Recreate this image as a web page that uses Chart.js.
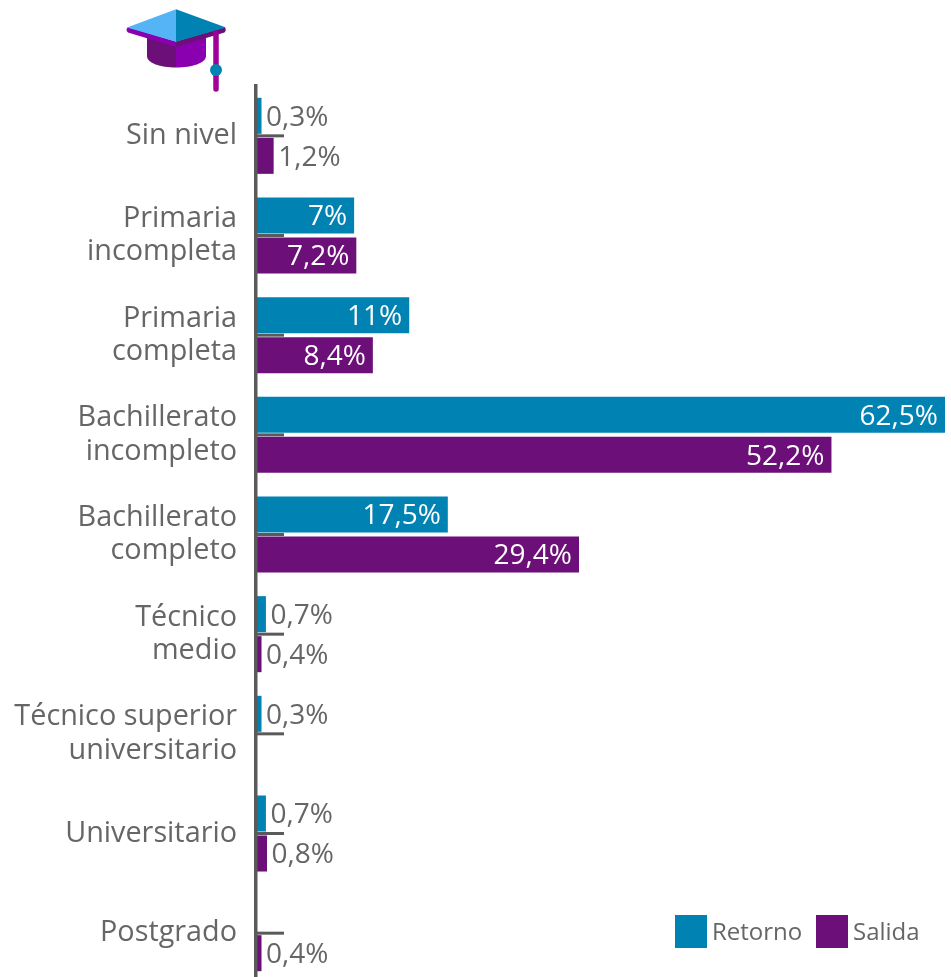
<!DOCTYPE html>
<html><head><meta charset="utf-8">
<style>html,body{margin:0;padding:0;background:#fff;width:951px;height:977px;overflow:hidden}
#w{position:relative;width:951px;height:977px;overflow:hidden}
canvas{display:block}
#cap{position:absolute;left:0;top:0}</style>
<script src="https://cdn.jsdelivr.net/npm/chart.js@4"></script>
</head><body><div id="w"><canvas id="c" width="951" height="983"></canvas>
<svg id="cap" width="240" height="95" viewBox="0 0 240 95">
<path d="M147 36V56C147 63 160 67.500 176 67.500V44Z" fill="#6c0f78"/>
<path d="M206 36V56C206 63 192 67.500 176 67.500V44Z" fill="#8a00b0"/>
<path d="M128 27L176 41.500V47L128 32.500Q125 30 128 27Z" fill="#8a00b0"/>
<path d="M224.500 27L176 41.500V47L224.500 32.500Q227 30 224.500 27Z" fill="#6c0f78"/>
<path d="M176 9.300L127 27.500L176 41.700Z" fill="#55b4f5"/>
<path d="M176 9.300L226 27.500L176 41.700Z" fill="#0083b3"/>
<path d="M216 33V89" stroke="#a0009a" stroke-width="5.500" stroke-linecap="round"/>
<circle cx="216" cy="70" r="6" fill="#0083b3"/>
</svg></div>
<script>
const categories = [["Sin nivel"],["Primaria","incompleta"],["Primaria","completa"],["Bachillerato","incompleto"],["Bachillerato","completo"],["Técnico","medio"],["Técnico superior","universitario"],["Universitario"],["Postgrado"]];
const retornoBars = [0.5,8.9,13.9,62.5,17.4,0.9,0.5,0.9,null];
const salidaBars = [1.6,9.1,10.6,52.2,29.3,0.5,null,1.0,0.5];
const retornoLabels = ["0,3%","7%","11%","62,5%","17,5%","0,7%","0,3%","0,7%",""];
const salidaLabels = ["1,2%","7,2%","8,4%","52,2%","29,4%","0,4%","","0,8%","0,4%"];
const seriesNames = ["Retorno","Salida"];
const seriesColors = ["#0083b3","#6c0f78"];
const seriesLabels = [retornoLabels,salidaLabels];
const GREY="#666666", AXIS="#5a5a5a", FONT='"Open Sans"';

const marks = {
  id:"marks",
  beforeDatasetsDraw(ch){
    const c=ch.ctx,y=ch.scales.y;
    c.save();c.strokeStyle=AXIS;c.lineWidth=3;
    y.ticks.forEach((t,i)=>{const p=y.getPixelForTick(i);c.beginPath();c.moveTo(ch.chartArea.left,p);c.lineTo(ch.chartArea.left+28,p);c.stroke();});
    c.restore();
  },
  afterDatasetsDraw(ch){
    const c=ch.ctx;
    c.save();c.textBaseline="middle";
    ch.data.datasets.forEach((d,di)=>{
      ch.getDatasetMeta(di).data.forEach((el,i)=>{
        const txt=seriesLabels[di][i]; if(!txt)return;
        const inside=d.data[i]>5;
        c.font='400 28px '+FONT;
        c.fillStyle=inside?"#ffffff":GREY;
        c.textAlign=inside?"right":"left";
        c.fillText(txt,el.x+(inside?-7:4.500),el.y+2);
      });
    });
    // legend
    c.font='24px '+FONT;c.textAlign="left";
    const xs=[675,816];
    seriesNames.forEach((n,i)=>{
      c.fillStyle=seriesColors[i];c.fillRect(xs[i],915,32,33);
      c.fillStyle=GREY;c.fillText(n,xs[i]+37,933);
    });
    c.restore();
  }
};
new Chart(document.getElementById("c"),{
  type:"bar",
  data:{labels:categories,datasets:[
    {label:seriesNames[0],data:retornoBars,backgroundColor:seriesColors[0]},
    {label:seriesNames[1],data:salidaBars,backgroundColor:seriesColors[1]}
  ]},
  options:{
    indexAxis:"y",responsive:false,animation:false,
    categoryPercentage:0.803,barPercentage:0.9,
    layout:{autoPadding:false,padding:{top:86,right:6,bottom:0,left:0}},
    plugins:{legend:{display:false},tooltip:{enabled:false}},
    scales:{
      x:{display:false,min:0,max:62.5},
      y:{
        afterFit(s){s.width=256;s.paddingTop=0;s.paddingBottom=0;},
        grid:{display:true,drawOnChartArea:false,drawTicks:false},
        border:{display:true,color:AXIS,width:3.500,z:1},
        ticks:{color:GREY,padding:19,autoSkip:false,font:{family:FONT,size:28.800,lineHeight:1.15}}
      }
    }
  },
  plugins:[marks]
});
</script></body></html>
